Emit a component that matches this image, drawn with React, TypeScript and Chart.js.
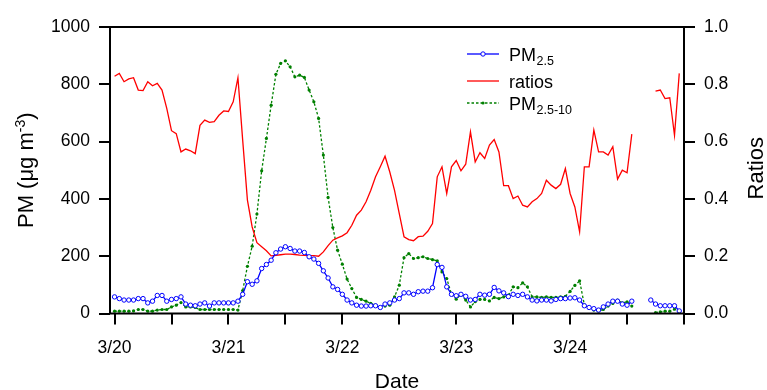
import React, { useEffect, useRef } from "react";
import { Chart, registerables } from "chart.js";
Chart.register(...registerables);

// Hourly series starting 3/20 00:00
const dayLabels = ["3/20", "3/21", "3/22", "3/23", "3/24"];
const xTicks = [0, 0.5, 1, 1.5, 2, 2.5, 3, 3.5, 4, 4.5, 5];
const pmTicks = [0, 200, 400, 600, 800, 1000];
const ratioTicks = [0, 0.2, 0.4, 0.6, 0.8, 1.0];

const pm25: (number | null)[] = [
  58, 52, 47, 47, 47, 52, 52, 37, 43, 63, 63, 43, 49, 52, 58, 33, 29, 27, 33, 37, 26, 37, 37, 37,
  37, 37, 43, 67, 111, 102, 114, 157, 171, 186, 212, 225, 233, 227, 218, 218, 213, 198, 190, 175, 149, 124, 93, 84,
  67, 47, 37, 29, 26, 26, 27, 27, 21, 33, 37, 47, 52, 72, 72, 67, 76, 78, 78, 90, 171, 161, 93, 67,
  62, 67, 60, 47, 49, 67, 64, 67, 91, 79, 72, 59, 67, 63, 67, 58, 47, 44, 47, 47, 44, 49, 52, 52,
  54, 55, 47, 27, 21, 17, 12, 23, 33, 43, 43, 33, 29, 43, null, null, null, 47, 33, 27, 27, 27, 27, 9,
];

const ratios: (number | null)[] = [
  0.828, 0.838, 0.809, 0.819, 0.823, 0.78, 0.778, 0.809, 0.795, 0.803, 0.78, 0.716, 0.638, 0.628, 0.564, 0.574, 0.568, 0.558, 0.657, 0.675, 0.667, 0.67, 0.692, 0.707,
  0.705, 0.739, 0.823, 0.605, 0.396, 0.302, 0.247, 0.233, 0.219, 0.201, 0.203, 0.205, 0.207, 0.207, 0.206, 0.204, 0.203, 0.202, 0.202, 0.2, 0.215, 0.237, 0.256, 0.264,
  0.271, 0.282, 0.308, 0.343, 0.361, 0.39, 0.43, 0.477, 0.512, 0.549, 0.494, 0.43, 0.349, 0.268, 0.258, 0.254, 0.268, 0.27, 0.287, 0.314, 0.477, 0.512, 0.419, 0.512,
  0.534, 0.498, 0.521, 0.634, 0.529, 0.561, 0.541, 0.588, 0.607, 0.564, 0.446, 0.446, 0.401, 0.41, 0.378, 0.372, 0.39, 0.401, 0.419, 0.465, 0.448, 0.436, 0.451, 0.506,
  0.419, 0.372, 0.285, 0.512, 0.512, 0.64, 0.564, 0.564, 0.553, 0.582, 0.469, 0.5, 0.491, 0.626, null, null, null, null, 0.776, 0.78, 0.75, 0.753, 0.622, 0.838,
];

const pmCoarse: (number | null)[] = [
  8, 8, 8, 8, 9, 14, 14, 8, 8, 12, 14, 14, 23, 29, 38, 23, 23, 21, 14, 14, 14, 14, 14, 14,
  14, 14, 12, 80, 165, 235, 347, 498, 611, 727, 835, 873, 882, 861, 826, 832, 824, 780, 739, 681, 553, 405, 300, 221,
  172, 120, 87, 56, 49, 43, 35, 29, 21, 26, 29, 58, 99, 195, 209, 192, 195, 198, 192, 188, 184, 145, 122, 67,
  50, 67, 47, 23, 41, 49, 49, 44, 56, 52, 58, 64, 93, 90, 107, 93, 58, 58, 56, 58, 56, 56, 58, 60,
  77, 98, 114, 30, 21, 12, 9, 14, 26, 35, 47, 37, 41, 26, null, null, null, null, 3, 6, 8, 8, 15, 9,
];

const FONT = '"Liberation Sans", Arial, sans-serif';
const BLUE = "#0000ff";
const RED = "#ff0000";
const GREEN = "#008000";

const toPoints = (arr: (number | null)[]) => arr.map((v, i) => ({ x: i / 24, y: v }));

const decorPlugin = {
  id: "decor",
  afterDraw(chart: any) {
    const { ctx, chartArea: a } = chart;
    ctx.save();
    // frame
    ctx.strokeStyle = "#000";
    ctx.lineWidth = 2;
    ctx.setLineDash([]);
    ctx.strokeRect(a.left, a.top, a.right - a.left, a.bottom - a.top);

    ctx.fillStyle = "#000";
    ctx.textBaseline = "alphabetic";
    // left title with superscript
    const cy = (a.top + a.bottom) / 2;
    ctx.save();
    ctx.translate(33, cy);
    ctx.rotate(-Math.PI / 2);
    const big = `22px ${FONT}`;
    const small = `14px ${FONT}`;
    const p1 = "PM (\u03bcg m";
    const p2 = "-3";
    const p3 = ")";
    ctx.font = big;
    const w1 = ctx.measureText(p1).width;
    const w3 = ctx.measureText(p3).width;
    ctx.font = small;
    const w2 = ctx.measureText(p2).width;
    let sx = -(w1 + w2 + w3) / 2;
    ctx.font = big;
    ctx.textAlign = "left";
    ctx.fillText(p1, sx, 0);
    sx += w1;
    ctx.font = small;
    ctx.fillText(p2, sx, -8);
    sx += w2;
    ctx.font = big;
    ctx.fillText(p3, sx, 0);
    ctx.restore();

    // right title
    ctx.save();
    ctx.translate(763, cy - 2);
    ctx.rotate(-Math.PI / 2);
    ctx.font = `22px ${FONT}`;
    ctx.textAlign = "center";
    ctx.fillText("Ratios", 0, 0);
    ctx.restore();

    // x title
    ctx.font = `21px ${FONT}`;
    ctx.textAlign = "center";
    ctx.fillText("Date", (a.left + a.right) / 2, 388);

    // legend
    const lx0 = 467, lx1 = 499, tx = 509;
    const rows = [
      { main: "PM", sub: "2.5", y: 54, color: BLUE, dash: [] as number[], marker: "circle" },
      { main: "ratios", sub: "", y: 81, color: RED, dash: [] as number[], marker: "" },
      { main: "PM", sub: "2.5-10", y: 103, color: GREEN, dash: [2.5, 2], marker: "dot" },
    ];
    rows.forEach((r) => {
      ctx.strokeStyle = r.color;
      ctx.lineWidth = 1.3;
      ctx.setLineDash(r.dash);
      ctx.beginPath();
      ctx.moveTo(lx0, r.y);
      ctx.lineTo(lx1, r.y);
      ctx.stroke();
      ctx.setLineDash([]);
      const mx = (lx0 + lx1) / 2;
      if (r.marker === "circle") {
        ctx.beginPath();
        ctx.arc(mx, r.y, 2.2, 0, Math.PI * 2);
        ctx.fillStyle = "#fff";
        ctx.fill();
        ctx.lineWidth = 1;
        ctx.stroke();
      } else if (r.marker === "dot") {
        ctx.beginPath();
        ctx.arc(mx, r.y, 1.6, 0, Math.PI * 2);
        ctx.fillStyle = r.color;
        ctx.fill();
      }
      ctx.fillStyle = "#000";
      ctx.textAlign = "left";
      ctx.font = `18px ${FONT}`;
      ctx.fillText(r.main, tx, r.y + 6.5);
      if (r.sub) {
        const w = ctx.measureText(r.main).width;
        ctx.font = `12.5px ${FONT}`;
        ctx.fillText(r.sub, tx + w + 0.5, r.y + 10.5);
      }
    });
    ctx.restore();
  },
};

export default function App() {
  const ref = useRef<HTMLCanvasElement | null>(null);
  useEffect(() => {
    if (!ref.current) return;
    const gridOpts = {
      drawOnChartArea: false,
      drawTicks: true,
      tickLength: 11,
      color: "#000",
      lineWidth: 2,
    };
    const tickFont = { family: FONT, size: 17.5 };
    const chart = new Chart(ref.current, {
      type: "line",
      data: {
        datasets: [
          {
            label: "PM2.5",
            data: toPoints(pm25),
            yAxisID: "y",
            borderColor: BLUE,
            borderWidth: 1.3,
            backgroundColor: "#ffffff",
            pointBorderColor: BLUE,
            pointBackgroundColor: "#ffffff",
            pointRadius: 2.2,
            pointBorderWidth: 1,
            tension: 0,
            spanGaps: false,
          },
          {
            label: "ratios",
            data: toPoints(ratios),
            yAxisID: "y1",
            borderColor: RED,
            borderWidth: 1.3,
            pointRadius: 0,
            tension: 0,
            spanGaps: false,
          },
          {
            label: "PM2.5-10",
            data: toPoints(pmCoarse),
            yAxisID: "y",
            borderColor: GREEN,
            borderWidth: 1.3,
            borderDash: [2.5, 2],
            pointRadius: 1.6,
            pointBorderWidth: 0,
            pointBackgroundColor: GREEN,
            pointBorderColor: GREEN,
            tension: 0,
            spanGaps: false,
          },
        ],
      },
      options: {
        responsive: false,
        animation: false,
        devicePixelRatio: 1,
        layout: { padding: { top: 27, left: 0, right: 0, bottom: 0 } },
        plugins: { legend: { display: false }, tooltip: { enabled: false } },
        scales: {
          x: {
            type: "linear",
            min: -0.04,
            max: 5,
            afterBuildTicks: (s: any) => {
              s.ticks = xTicks.map((v) => ({ value: v }));
            },
            afterFit: (s: any) => {
              s.height = 76.5;
            },
            grid: gridOpts,
            border: { display: false },
            ticks: {
              autoSkip: false,
              maxRotation: 0,
              padding: 13,
              color: "#000",
              font: tickFont,
              callback: (v: any) => {
                const n = Number(v);
                return Number.isInteger(n) && n < dayLabels.length ? dayLabels[n] : "";
              },
            },
          },
          y: {
            type: "linear",
            position: "left",
            min: pmTicks[0],
            max: pmTicks[pmTicks.length - 1],
            afterBuildTicks: (s: any) => {
              s.ticks = pmTicks.map((v) => ({ value: v }));
            },
            afterFit: (s: any) => {
              s.width = 110;
            },
            grid: gridOpts,
            border: { display: false },
            ticks: { padding: 9, color: "#000", font: tickFont, callback: (v: any) => String(v) },
          },
          y1: {
            type: "linear",
            position: "right",
            min: ratioTicks[0],
            max: ratioTicks[ratioTicks.length - 1],
            afterBuildTicks: (s: any) => {
              s.ticks = ratioTicks.map((v) => ({ value: v }));
            },
            afterFit: (s: any) => {
              s.width = 83;
            },
            grid: gridOpts,
            border: { display: false },
            ticks: { padding: 9, color: "#000", font: tickFont, callback: (v: any) => Number(v).toFixed(1) },
          },
        },
      } as any,
      plugins: [decorPlugin],
    });
    return () => chart.destroy();
  }, []);
  return (
    <div style={{ position: "absolute", left: 0, top: 0, width: 767, height: 390, background: "#fff" }}>
      <canvas ref={ref} width={767} height={390} style={{ display: "block" }} />
    </div>
  );
}
